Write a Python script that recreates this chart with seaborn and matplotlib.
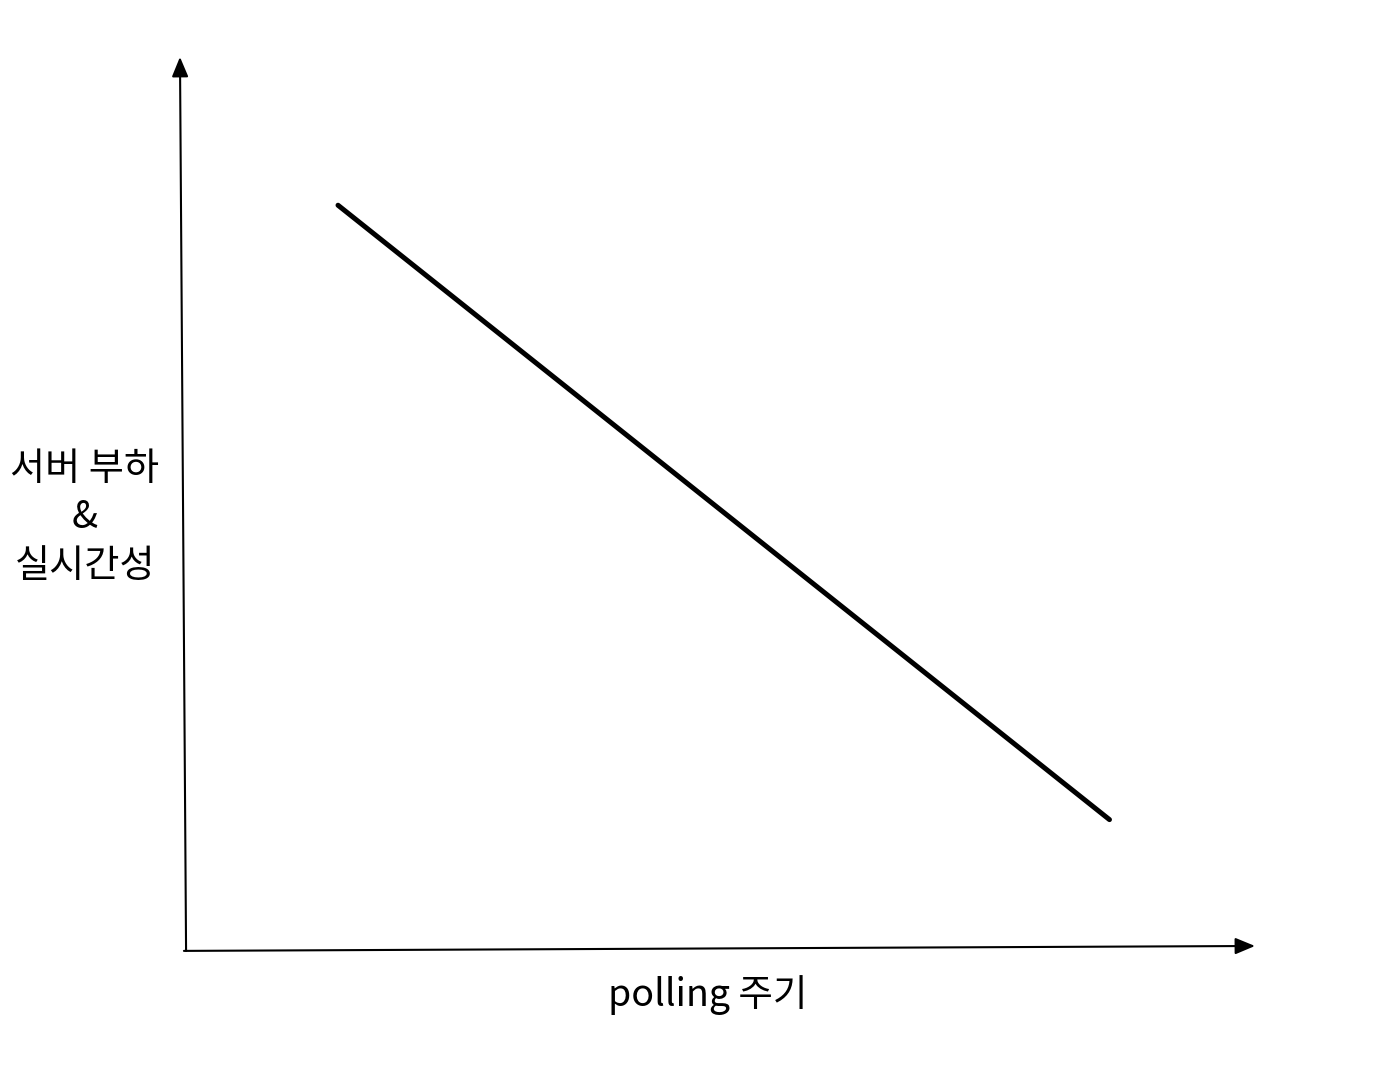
import matplotlib
matplotlib.use("Agg")
import matplotlib.pyplot as plt
import seaborn as sns

# Data
polling_period = [1.43, 8.64]
load_realtime = [8.34, 1.46]
x_label = "polling 주기"
y_label = "서버 부하\n&\n실시간성"

sns.set_style("white")
plt.rcParams["font.family"] = ["Noto Sans CJK KR", "DejaVu Sans"]

fig = plt.figure(figsize=(13.76, 10.76), dpi=100)
ax = fig.add_axes([185 / 1376, (1076 - 950) / 1076, 1070 / 1376, 893 / 1076])

sns.lineplot(x=polling_period, y=load_realtime, ax=ax, color="black", linewidth=3.6)
ax.set_xlim(0, 10)
ax.set_ylim(0, 10)
for s in ax.spines.values():
    s.set_visible(False)
ax.set_xticks([])
ax.set_yticks([])
ax.patch.set_alpha(0)

#Axis arrows
arrow = dict(arrowstyle="-|>,head_length=1.2,head_width=0.5", color="black", lw=1.5,
             shrinkA=0, shrinkB=0)
ax.annotate("", xy=(-0.0047, 1.0), xytext=(0.001, -0.001), xycoords="axes fraction",
            arrowprops=arrow, annotation_clip=False)
ax.annotate("", xy=(1.0, 0.0045), xytext=(-0.001, -0.001), xycoords="axes fraction",
            arrowprops=arrow, annotation_clip=False)

#Labels
fig.text(708 / 1376, 1 - 995 / 1076, x_label, ha="center", va="center", fontsize=27,
         color="black")
fig.text(85 / 1376, 1 - 518 / 1076, y_label, ha="center", va="center", fontsize=27.5,
         linespacing=1.32, color="black")

fig.savefig("out.png", dpi=100)
plt.close()
